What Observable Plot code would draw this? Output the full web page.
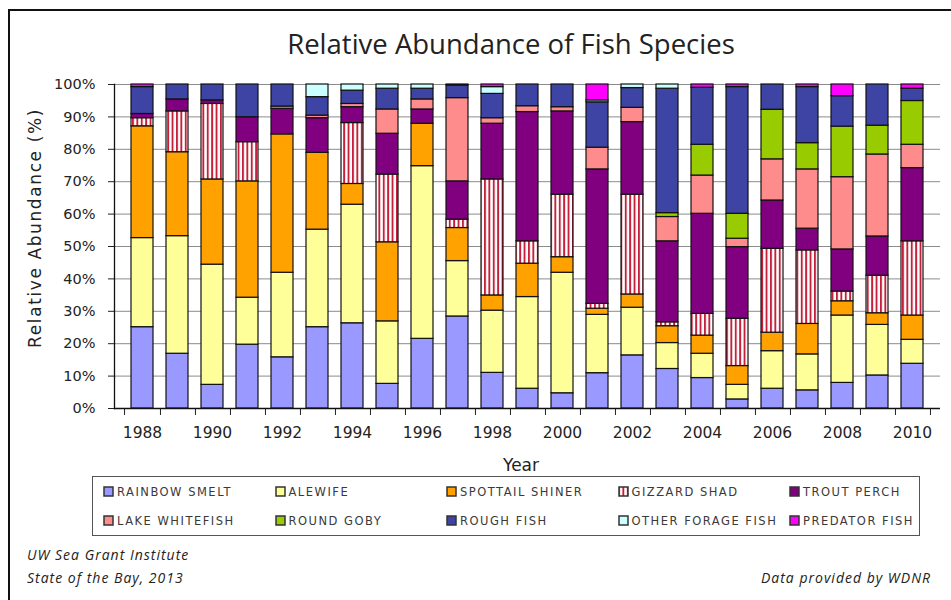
<!DOCTYPE html>
<html><head><meta charset="utf-8">
<script src="https://cdn.jsdelivr.net/npm/d3@7"></script>
<script src="https://cdn.jsdelivr.net/npm/@observablehq/plot@0.6"></script>
<style>
body{margin:0;background:#fff;}
#wrap{position:relative;width:951px;height:600px;overflow:hidden;font-family:"DejaVu Sans",sans-serif;color:#222;}
#frame{position:absolute;left:8px;top:9px;width:960px;height:620px;border:2px solid #111;box-sizing:border-box;}
#title{position:absolute;left:0;width:1022px;top:28px;text-align:center;font-family:"Open Sans",sans-serif;font-size:27.5px;line-height:32px;color:#222;}
#chart{position:absolute;left:0;top:0;}
#ylabel{position:absolute;left:35px;top:228px;transform:translate(-50%,-50%) rotate(-90deg);white-space:nowrap;font-size:17px;letter-spacing:1.6px;}
#xlabel{position:absolute;left:521px;top:465px;transform:translate(-50%,-50%);font-size:17px;}
#legend{position:absolute;left:92px;top:476px;width:828px;height:60px;box-sizing:border-box;border:1.5px solid #555;display:grid;grid-template-columns:repeat(5,171.5px);grid-template-rows:29px 29px;padding-left:10px;align-items:center;}
.item{display:flex;align-items:center;font-size:11.5px;letter-spacing:1.5px;white-space:nowrap;color:#3a3a3a;}
.item svg{margin-right:3px;}
#foot1{position:absolute;left:27px;top:543px;font-family:"Open Sans",sans-serif;font-style:italic;font-size:14px;letter-spacing:1px;line-height:23px;color:#222;}
#foot2{position:absolute;right:20px;top:566px;font-family:"Open Sans",sans-serif;font-style:italic;font-size:14px;letter-spacing:1px;line-height:23px;color:#222;}
</style></head><body>
<svg width="0" height="0" style="position:absolute">
  <defs>
    <pattern id="gizzard" patternUnits="userSpaceOnUse" width="4.4" height="4">
      <rect width="4.4" height="4" fill="#ffffff"></rect>
      <rect width="1.9" height="4" fill="#C4203C"></rect>
    </pattern>
  </defs>
</svg>
<div id="wrap">
  <div id="frame"></div>
  <div id="title">Relative Abundance of Fish Species</div>
  <div id="chart"></div>
  <div id="ylabel">Relative Abundance (%)</div>
  <div id="xlabel">Year</div>
  <div id="legend"></div>
  <div id="foot1">UW Sea Grant Institute<br>State of the Bay, 2013</div>
  <div id="foot2">Data provided by WDNR</div>
</div>
<script>
const years = [1988,1989,1990,1991,1992,1993,1994,1995,1996,1997,1998,1999,2000,2001,2002,2003,2004,2005,2006,2007,2008,2009,2010];
const species = ["Rainbow Smelt","Alewife","Spottail Shiner","Gizzard Shad","Trout Perch","Lake Whitefish","Round Goby","Rough Fish","Other Forage Fish","Predator Fish"];
const colors = ["#9999FF","#FFFF99","#FFA200","url(#gizzard)","#800080","#FF8C8C","#99CC00","#3D44A3","#CCFFFF","#FF00FF"];

// relative abundance (%) per species, one value per year
const rainbowSmelt   = [25.1,16.9,7.3,19.7,15.8,25.1,26.3,7.6,21.5,28.4,11.0,6.1,4.7,10.9,16.4,12.2,9.4,2.8,6.1,5.6,7.9,10.2,13.8];
const alewife        = [27.5,36.3,37.1,14.5,26.1,30.1,36.6,19.3,53.3,17.1,19.2,28.3,37.2,18.0,14.7,8.0,7.5,4.5,11.6,11.1,20.8,15.6,7.4];
const spottailShiner = [34.5,25.9,26.3,35.9,42.7,23.7,6.4,24.4,13.1,10.2,4.7,10.3,4.8,1.9,4.1,5.2,5.6,5.8,5.7,9.4,4.4,3.6,7.5];
const gizzardShad    = [2.5,12.6,23.3,12.1,0,0,18.8,20.9,0,2.6,35.8,6.9,19.3,1.5,30.8,1.2,6.7,14.6,25.9,22.7,3.0,11.6,22.9];
const troutPerch     = [1.3,3.7,1.1,7.7,7.9,10.7,4.9,12.6,4.4,11.8,17.2,39.9,25.7,41.5,22.4,25.0,30.9,22.1,14.9,6.7,13.0,12.1,22.6];
const lakeWhitefish  = [0,0,0,0,0.7,0.8,1.0,7.5,3.1,25.7,1.7,1.8,1.3,6.7,4.4,7.5,11.8,2.6,12.7,18.3,22.3,25.3,7.2];
const roundGoby      = [0,0,0,0,0,0,0,0,0,0,0,0,0,0,0,1.2,9.5,7.7,15.3,8.1,15.6,8.9,13.5];
const roughFish      = [8.3,4.6,4.9,10.1,6.8,5.7,4.1,6.4,3.3,3.9,7.5,6.7,7.0,14.0,6.1,38.4,17.6,39.1,7.8,17.3,9.4,12.7,3.8];
const otherForage    = [0,0,0,0,0,3.9,1.9,1.3,1.3,0.3,2.1,0,0,0.6,1.1,1.3,0,0,0,0,0,0,0];
const predatorFish   = [0.8,0,0,0,0,0,0,0,0,0,0.8,0,0,4.9,0,0,1.0,0.8,0,0.8,3.6,0,1.3];

const seriesValues = [rainbowSmelt,alewife,spottailShiner,gizzardShad,troutPerch,lakeWhitefish,roundGoby,roughFish,otherForage,predatorFish];
const rows = years.flatMap((yr, i) => species.map((sp, j) => ({year: yr, species: sp, value: seriesValues[j][i]}))).filter(d => d.value > 0);

const W = 951, H = 450, ML = 114, MR = 11, MT = 84, MB = 42;
const step = (W - ML - MR) / years.length;

const chart = Plot.plot({
  width: W, height: H, marginLeft: ML, marginRight: MR, marginTop: MT, marginBottom: MB,
  style: {fontFamily: "DejaVu Sans", fontSize: "15px", color: "#222", background: "transparent"},
  x: {type: "band", domain: years, paddingInner: 0.37, paddingOuter: 0.185, label: null},
  y: {domain: [0, 1], label: null},
  color: {domain: species, range: colors},
  marks: [
    Plot.gridY({ticks: 10, stroke: "#8c8c8c", strokeOpacity: 1}),
    Plot.barY(rows, Plot.stackY({x: "year", y: "value", fill: "species", order: species, offset: "normalize", stroke: "#111", strokeWidth: 1.2})),
    Plot.axisY({ticks: 10, tickFormat: d3.format(".0%"), tickSize: 6, tickPadding: 13, label: null, fontSize: 14.5}),
    Plot.axisX({ticks: years.filter(y => y % 2 === 0), tickFormat: d => String(d), tickSize: 0, tickPadding: 18, label: null, fontSize: 15.5}),
    Plot.axisX({tickSize: 7, tickFormat: () => "", dx: step / 2, label: null}),
    Plot.axisX({ticks: [years[0]], tickSize: 7, tickFormat: () => "", dx: -step / 2, label: null}),
    Plot.ruleY([0], {stroke: "#111", strokeWidth: 1.3}),
    Plot.frame({anchor: "left", stroke: "#111", strokeWidth: 1.3})
  ]
});
document.getElementById("chart").appendChild(chart);

const legend = document.getElementById("legend");
species.forEach((sp, i) => {
  const item = document.createElement("div");
  item.className = "item";
  item.innerHTML = `<svg width="11" height="11"><rect x="1" y="1" width="9" height="9" fill="${colors[i]}" stroke="#333" stroke-width="1.5"></rect></svg><span>${sp.toUpperCase()}</span>`;
  legend.appendChild(item);
});
</script>
</body></html>
